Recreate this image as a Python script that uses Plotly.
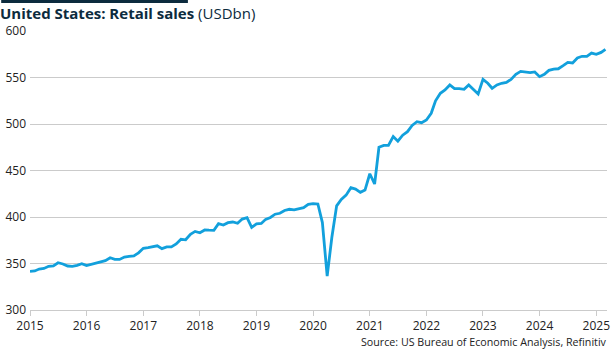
import pandas as pd
import plotly.graph_objects as go

# ---- Data (USD bn, monthly, Jan 2015 - Mar 2025) ----
start_month = "2015-01-01"
sales_2015 = [341.5, 342, 344, 344.7, 347, 347.5, 350.8, 349.5, 347.3, 347, 348, 349.8]
sales_2016 = [347.7, 349.2, 349.8, 351.6, 353, 356.2, 354.5, 354.4, 357, 357.7, 358.2, 361.5]
sales_2017 = [366.3, 367, 368, 369, 366, 367.8, 367.8, 371, 376, 375.5, 381.5, 384.5]
sales_2018 = [383, 386, 385.8, 385.7, 392.8, 391.4, 393.9, 394.6, 393.2, 397.8, 399.3, 388.9]
sales_2019 = [392.5, 393, 397.5, 399.5, 403, 404, 407, 408.3, 407.7, 408.5, 410, 413.5]
sales_2020 = [414.3, 414, 394, 336.5, 378, 412, 419, 423.5, 431.5, 430, 426.5, 429]
sales_2021 = [446.5, 435.5, 475, 477, 477, 486.5, 481.5, 488, 491.8, 498.5, 502.5, 501.4]
sales_2022 = [504.3, 511.5, 525, 533, 536.6, 542, 538, 538, 537.3, 542, 537, 532.3]
sales_2023 = [548, 543.8, 538.4, 542, 543.8, 544.8, 548, 553.4, 556.6, 556, 555.2, 556]
sales_2024 = [550.9, 553.4, 557.7, 559.1, 559.4, 562.7, 566.3, 565.6, 571, 572.8, 572.8, 576.3]
sales_2025 = [574.9, 577, 580.3]

year_ticks = [str(y) for y in range(2015, 2026)]
y_ticks = [300, 350, 400, 450, 500, 550, 600]

sales = (sales_2015 + sales_2016 + sales_2017 + sales_2018 + sales_2019 + sales_2020
         + sales_2021 + sales_2022 + sales_2023 + sales_2024 + sales_2025)
dates = pd.date_range(start_month, periods=len(sales), freq="MS")

W, H = 615, 350
ML, MR, MT, MB = 29, 5, 31, 40
PW, PH = W - ML - MR, H - MT - MB
FONT = "Open Sans"
NAVY = "#0c2b3e"
GRID = "#cbcbcb"

fig = go.Figure()
fig.add_trace(go.Scatter(
    x=dates, y=sales, mode="lines",
    line=dict(color="#12a0dc", width=2.8),
    hoverinfo="skip", showlegend=False,
))

fig.update_layout(
    width=W, height=H,
    margin=dict(l=ML, r=MR, t=MT, b=MB),
    paper_bgcolor="white", plot_bgcolor="white",
    font=dict(family=FONT, size=12, color="#222222"),
    title=dict(
        text="<b>United States: Retail sales</b> (USDbn)",
        x=0.0, xref="container", xanchor="left",
        y=1 - 14 / H, yref="container", yanchor="middle",
        font=dict(family=FONT, size=15, color=NAVY),
    ),
    xaxis=dict(
        type="date",
        range=["2015-01-01", "2025-03-11"],
        tickvals=[f"{y}-01-01" for y in year_ticks],
        ticktext=year_ticks,
        showgrid=False, zeroline=False,
        showline=True, linecolor=GRID, linewidth=1,
        ticks="outside", ticklen=5, tickcolor=GRID, tickwidth=1,
        tickfont=dict(size=12, color="#222222"),
    ),
    yaxis=dict(
        range=[300, 600],
        tickvals=y_ticks,
        showgrid=True, gridcolor=GRID, gridwidth=1,
        zeroline=False, showline=False, ticks="",
        ticklabelstandoff=3,
        tickfont=dict(size=12, color="#222222"),
    ),
    annotations=[dict(
        text="Source: US Bureau of Economic Analysis, Refinitiv",
        xref="paper", yref="paper",
        x=1 + (MR - 3) / PW, y=-(342 - (H - MB)) / PH,
        xanchor="right", yanchor="middle", showarrow=False,
        font=dict(family=FONT, size=10.7, color="#222222"),
    )],
    shapes=[dict(
        type="rect", xref="paper", yref="paper", layer="above",
        x0=-ML / PW, x1=(188 - ML) / PW,
        y0=1 + (MT - 3) / PH, y1=1 + MT / PH,
        fillcolor=NAVY, line=dict(width=0),
    )],
)

fig.write_html("out.html")
